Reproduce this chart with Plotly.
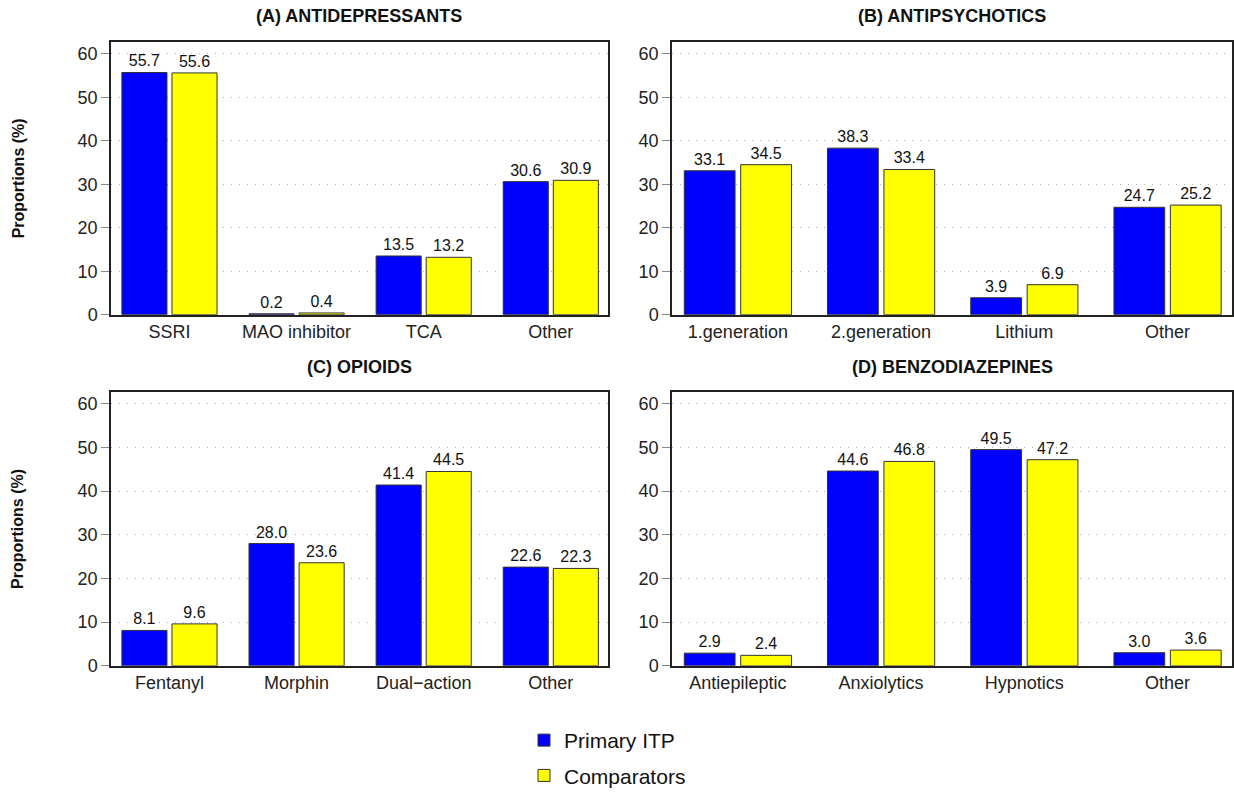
import plotly.graph_objects as go

# ---- data ----
titles = ["(A) ANTIDEPRESSANTS", "(B) ANTIPSYCHOTICS", "(C) OPIOIDS", "(D) BENZODIAZEPINES"]
cats_a = ["SSRI", "MAO inhibitor", "TCA", "Other"]
cats_b = ["1.generation", "2.generation", "Lithium", "Other"]
cats_c = ["Fentanyl", "Morphin", "Dual\u2212action", "Other"]
cats_d = ["Antiepileptic", "Anxiolytics", "Hypnotics", "Other"]
itp_a = [55.7, 0.2, 13.5, 30.6]
comp_a = [55.6, 0.4, 13.2, 30.9]
itp_b = [33.1, 38.3, 3.9, 24.7]
comp_b = [34.5, 33.4, 6.9, 25.2]
itp_c = [8.1, 28.0, 41.4, 22.6]
comp_c = [9.6, 23.6, 44.5, 22.3]
itp_d = [2.9, 44.6, 49.5, 3.0]
comp_d = [2.4, 46.8, 47.2, 3.6]
series_names = ["Primary ITP", "Comparators"]
yticks = [0, 10, 20, 30, 40, 50, 60]

FONT = "Liberation Sans, Arial, sans-serif"
BLUE = "#0000FF"
YELLOW = "#FFFF00"
W, H = 1234, 796

panels = [
    (cats_a, itp_a, comp_a),
    (cats_b, itp_b, comp_b),
    (cats_c, itp_c, comp_c),
    (cats_d, itp_d, comp_d),
]

fig = go.Figure()
for i, (cats, itp, comp) in enumerate(panels):
    sfx = "" if i == 0 else str(i + 1)
    for name, vals, col, grp in [(series_names[0], itp, BLUE, "itp"),
                                 (series_names[1], comp, YELLOW, "comp")]:
        fig.add_trace(go.Bar(
            x=cats, y=vals, name=name,
            marker=dict(color=col, line=dict(color="#333333", width=1)),
            text=[f"{v:.1f}" for v in vals], textposition="outside",
            textfont=dict(size=16, color="#111111", family=FONT),
            constraintext="none", cliponaxis=False,
            xaxis="x" + sfx, yaxis="y" + sfx,
            legendgroup=grp, showlegend=(i == 0),
        ))

xdom_left = [111 / W, 608 / W]
xdom_right = [672 / W, 1232 / W]
ydom_top = [1 - 319.5 / H, 1 - 42.7 / H]
ydom_bot = [1 - 676 / H, 1 - 398 / H]

layout = dict(
    width=W, height=H,
    margin=dict(l=0, r=0, t=0, b=0),
    paper_bgcolor="white", plot_bgcolor="white",
    font=dict(family=FONT, color="#222222"),
    barmode="group", bargap=0.212, bargroupgap=0.1,
    legend=dict(orientation="v", x=524 / W, y=1 - 731 / H, xanchor="left", yanchor="top",
                font=dict(size=21, family=FONT, color="#111111"), tracegroupgap=5,
                bgcolor="rgba(0,0,0,0)"),
)
doms = [(xdom_left, ydom_top), (xdom_right, ydom_top), (xdom_left, ydom_bot), (xdom_right, ydom_bot)]
for i, (xd, yd) in enumerate(doms):
    sfx = "" if i == 0 else str(i + 1)
    layout["xaxis" + sfx] = dict(
        domain=xd, anchor="y" + sfx, type="category", range=[-0.46, 3.45],
        showline=True, linecolor="#222222", linewidth=1.5, mirror=True,
        ticks="", showgrid=False, zeroline=False, fixedrange=True,
        tickfont=dict(size=18, family=FONT, color="#222222"),
    )
    layout["yaxis" + sfx] = dict(
        domain=yd, anchor="x" + sfx, range=[0, 62.7],
        tickvals=yticks, ticks="outside", ticklen=8, tickcolor="#888888", tickwidth=1,
        showline=True, linecolor="#222222", linewidth=1.5, mirror=True,
        showgrid=True, gridcolor="#b0b0b0", griddash="1px,7px", gridwidth=1.2,
        zeroline=False, fixedrange=True,
        tickfont=dict(size=18, family=FONT, color="#222222"),
    )
fig.update_layout(**layout)

annotations = []
title_pos = [((xdom_left[0] + xdom_left[1]) / 2, 1 - 16 / H),
             ((xdom_right[0] + xdom_right[1]) / 2, 1 - 16 / H),
             ((xdom_left[0] + xdom_left[1]) / 2, 1 - 373 / H),
             ((xdom_right[0] + xdom_right[1]) / 2, 1 - 373 / H)]
for t, (tx, ty) in zip(titles, title_pos):
    annotations.append(dict(text=f"<b>{t}</b>", x=tx, y=ty, xref="paper", yref="paper",
                            xanchor="center", yanchor="middle", showarrow=False,
                            font=dict(size=18, family=FONT, color="#111111")))
for yc in [(ydom_top[0] + ydom_top[1]) / 2, (ydom_bot[0] + ydom_bot[1]) / 2]:
    annotations.append(dict(text="<b>Proportions (%)</b>", x=18 / W, y=yc, xref="paper", yref="paper",
                            xanchor="center", yanchor="middle", textangle=-90, showarrow=False,
                            font=dict(size=16, family=FONT, color="#111111")))
fig.update_layout(annotations=annotations)

fig.write_html("out.html", config={"displayModeBar": False},
               post_script="document.body.style.margin='0';document.body.style.overflow='hidden';")
